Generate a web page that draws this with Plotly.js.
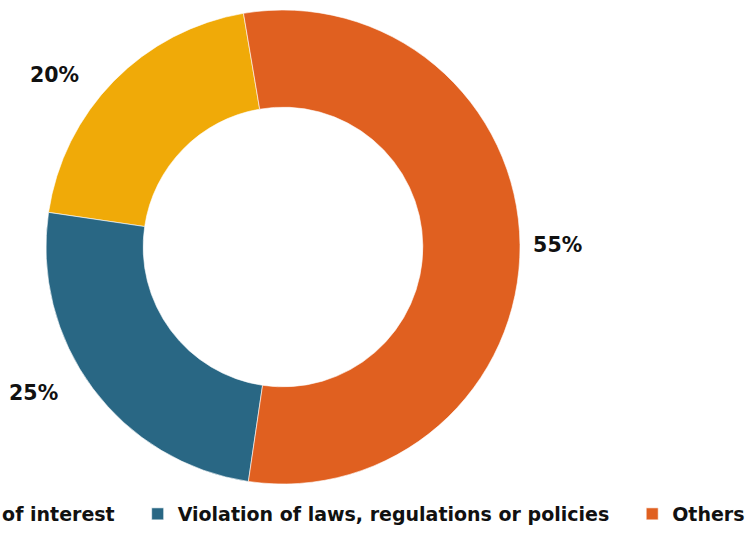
<!DOCTYPE html>
<html>
<head>
<meta charset="utf-8">
<script src="https://cdn.plot.ly/plotly-3.0.1.min.js"></script>
<style>
html,body{margin:0;padding:0;width:749px;height:533px;overflow:hidden;background:#fff;}
#chart{position:absolute;left:-300px;top:0;width:1050px;height:533px;}
</style>
</head>
<body>
<div id="chart"></div>
<script>
var categories = ["Conflict of interest", "Violation of laws, regulations or policies", "Others"];
var shares = [20, 25, 55];
var colors = ["#F0AA08", "#296784", "#E06020"];

var OFF = 300, W = 1050, H = 533;
var cx = 283 + OFF, cy = 247, R = 237;
var pad = "\u00a0\u00a0\u00a0\u00a0";

var data = [{
  type: "pie",
  labels: categories,
  values: shares,
  sort: false,
  direction: "counterclockwise",
  rotation: -81.6,
  hole: 0.59,
  texttemplate: ["%{percent}" + pad, "%{percent}" + pad, "\u00a0%{percent}"],
  textposition: "outside",
  outsidetextfont: {family: "DejaVu Sans, sans-serif", size: 20.5, weight: 700, color: "#111"},
  marker: {colors: colors, line: {color: "#ffffff", width: 0.6}},
  domain: {x: [(cx - R) / W, (cx + R) / W], y: [(H - cy - R) / H, (H - cy + R) / H]},
  hoverinfo: "label+percent"
}];

var layout = {
  width: W, height: H,
  margin: {l: 0, r: 0, t: 0, b: 0},
  paper_bgcolor: "#ffffff",
  showlegend: true,
  legend: {
    orientation: "h",
    x: 1, xanchor: "right",
    y: 0, yanchor: "bottom",
    indentation: 18,
    font: {family: "DejaVu Sans, sans-serif", size: 19, weight: 700, color: "#111"},
    traceorder: "normal",
    bgcolor: "rgba(0,0,0,0)"
  },
  font: {family: "DejaVu Sans, sans-serif", color: "#111"}
};

Plotly.newPlot("chart", data, layout, {displayModeBar: false, staticPlot: true});
</script>
</body>
</html>
